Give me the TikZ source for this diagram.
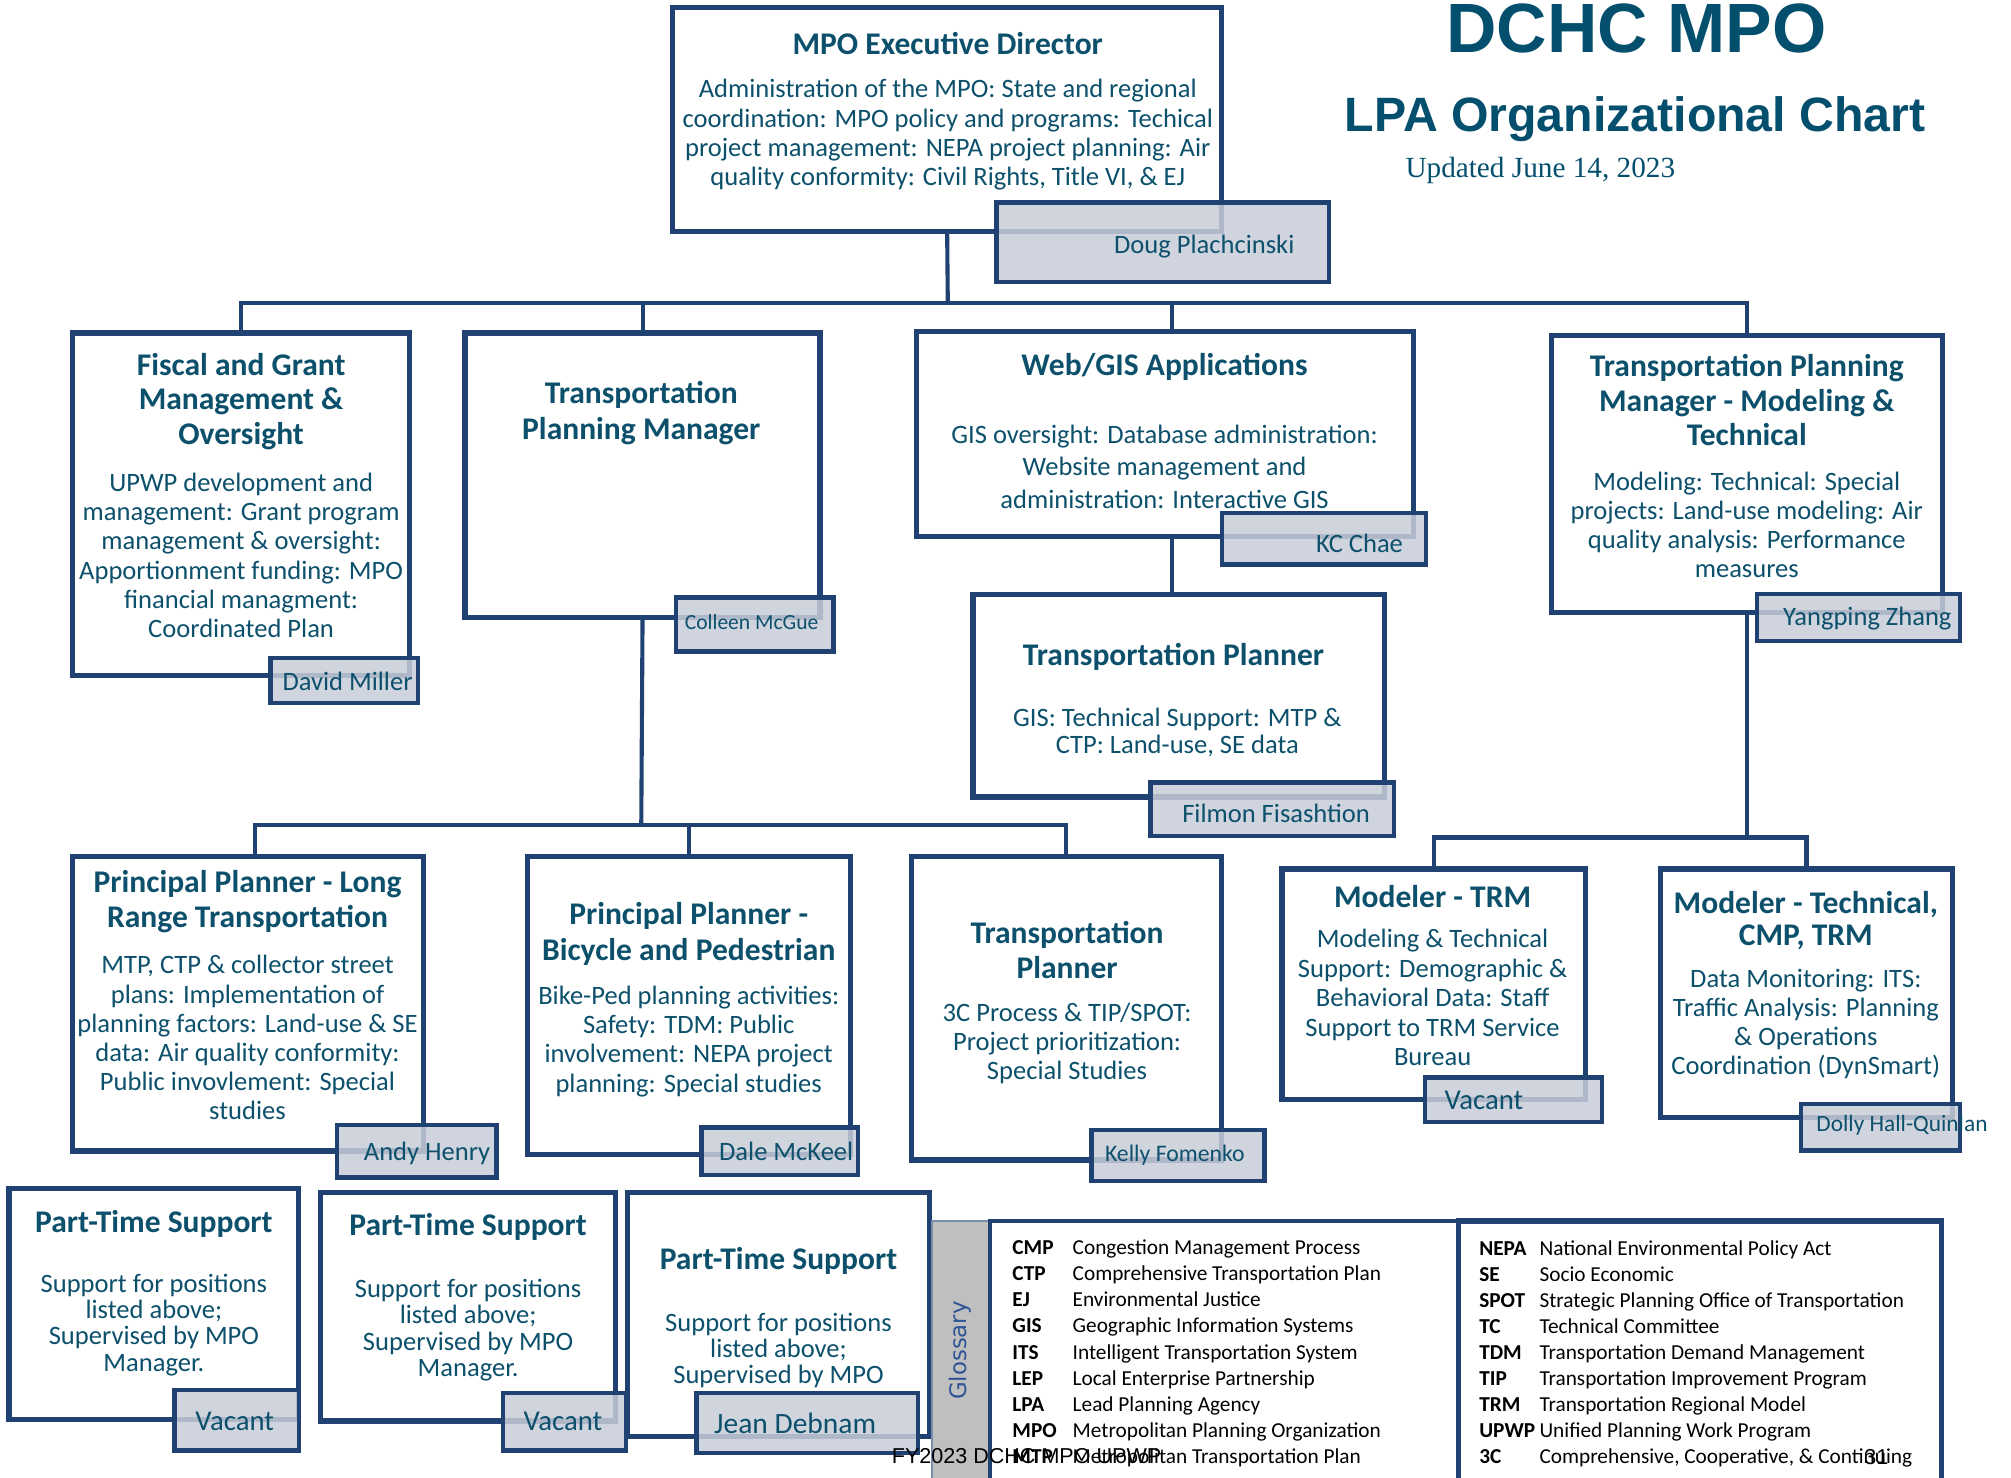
\documentclass[tikz,border=0pt]{standalone}
\usepackage{fontspec}
\setmainfont{Carlito}
\newfontfamily\arialf{Liberation Sans}
\newfontfamily\timesf{Liberation Serif}
\newfontfamily\dejaf{DejaVu Sans}
\usetikzlibrary{fit}
\definecolor{navy}{RGB}{31,66,114}
\definecolor{tealtx}{RGB}{12,80,108}
\definecolor{namefill}{RGB}{200,205,216}
\definecolor{glossgray}{RGB}{191,191,191}
\definecolor{glossblue}{RGB}{47,84,150}
\definecolor{titleblue}{RGB}{5,79,110}
\tikzset{
 box/.style={draw=navy, line width=2pt, fill=white, inner sep=0pt, outer sep=0pt},
 namebox/.style={draw=navy, line width=1.7pt, fill=namefill, fill opacity=0.85, inner sep=0pt, outer sep=0pt},
 conn/.style={draw=navy, line width=1.6pt},
 ttl/.style={text=tealtx, font=\bfseries\fontsize{12.3}{13.5}\selectfont, align=center, inner sep=0pt},
 bodyt/.style={text=tealtx, font=\fontsize{10.35}{11.35}\selectfont, align=center, inner sep=0pt},
 nm/.style={text=tealtx, font=\fontsize{10.35}{12}\selectfont, inner sep=0pt},
 gab/.style={text=black, font=\bfseries\fontsize{8.3}{10}\selectfont, anchor=mid west, inner sep=0pt},
 gde/.style={text=black, font=\fontsize{8.3}{10}\selectfont, anchor=mid west, inner sep=0pt},
}
\begin{document}
\begin{tikzpicture}[x=0.5pt,y=-0.5pt]
\useasboundingbox (0,0) rectangle (1568,1152);
\clip (0,0) rectangle (1568,1152);

% ---------- boxes (placed first so connectors can refer to them) ----------
\path
 node[fit={(525,6)(952,180)}, inner sep=0pt] (exec) {}
 node[fit={(57,260)(319,526)}, inner sep=0pt] (fiscal) {}
 node[fit={(363,260)(639,481)}, inner sep=0pt] (tpm) {}
 node[fit={(715,259)(1102,418)}, inner sep=0pt] (web) {}
 node[fit={(759,464)(1079,621)}, inner sep=0pt] (tpa) {}
 node[fit={(1210,262)(1514,477)}, inner sep=0pt] (tpmm) {}
 node[fit={(1000,678)(1236,857)}, inner sep=0pt] (mtrm) {}
 node[fit={(1295,678)(1522,871)}, inner sep=0pt] (mtech) {}
 node[fit={(57,668)(330,897)}, inner sep=0pt] (pplr) {}
 node[fit={(412,668)(663,900)}, inner sep=0pt] (ppbp) {}
 node[fit={(711,668)(952,904)}, inner sep=0pt] (tpb) {};

% ---------- connectors ----------
\coordinate (bus) at (739,236);
\coordinate (bus2) at (500,643);
\coordinate (bus3) at (1362,653);
\draw[conn] (exec.south) -- (bus);
\draw[conn] (fiscal.north) -- (fiscal.north |- bus) -- (tpmm.north |- bus) -- (tpmm.north);
\draw[conn] (tpm.north) -- (tpm.north |- bus);
\draw[conn] ([xshift=2.75pt]web.north) -- ([xshift=2.75pt]web.north |- bus);
\draw[conn] ([xshift=2.75pt]web.south) -- ([xshift=2.75pt]web.south |- tpa.north);
\draw[conn] (tpm.south) -- (bus2);
\draw[conn] ([xshift=2.5pt]pplr.north) -- ([xshift=2.5pt]pplr.north |- bus2) -- (tpb.north |- bus2) -- (tpb.north);
\draw[conn] (ppbp.north) -- (ppbp.north |- bus2);
\draw[conn] (tpmm.south) -- (bus3);
\draw[conn] (mtrm.north) -- (mtrm.north |- bus3) -- (mtech.north |- bus3) -- (mtech.north);

% ---------- draw boxes ----------
\foreach \b in {exec,fiscal,tpm,web,tpa,tpmm,mtrm,mtech,pplr,ppbp,tpb}
  \draw[navy, line width=2pt, fill=white] (\b.north west) rectangle (\b.south east);

\node[box, fit={(7,927)(233,1107)}] (pt1) {};
\node[box, fit={(250,930)(480,1108)}] (pt2) {};
\node[box, fit={(489,930)(725,1120)}] (pt3) {};

% ---------- texts ----------
\node[ttl] (execT) at (739,34) {MPO Executive Director};
\node[bodyt] (execB) at (739,105) {Administration of the MPO: State and regional\\coordination: MPO policy and programs: Techical\\project management: NEPA project planning: Air\\quality conformity: Civil Rights, Title VI, \& EJ};

\node[ttl] (fiscalT) at (188,313) {Fiscal and Grant\\Management \&\\Oversight};
\node[bodyt] (fiscalB) at (188,433) {UPWP development and\\management: Grant program\\management \& oversight:\\Apportionment funding: MPO\\financial managment:\\Coordinated Plan};

\node[ttl, font=\bfseries\fontsize{12.3}{14}\selectfont] (tpmT) at (500,322) {Transportation\\Planning Manager};

\node[ttl] (webT) at (908,286) {Web/GIS Applications};
\node[bodyt, font=\fontsize{10.35}{12.5}\selectfont] (webB) at (908,364) {GIS oversight: Database administration:\\Website management and\\administration: Interactive GIS};

\node[ttl] (tpaT) at (915,512) {Transportation Planner};
\node[bodyt, font=\fontsize{10.35}{10.6}\selectfont] (tpaB) at (918,571) {GIS: Technical Support: MTP \&\\CTP: Land-use, SE data};

\node[ttl] (tpmmT) at (1362,312) {Transportation Planning\\Manager - Modeling \&\\Technical};
\node[bodyt] (tpmmB) at (1362,409.5) {Modeling: Technical: Special\\projects: Land-use modeling: Air\\quality analysis: Performance\\measures};

\node[ttl] (mtrmT) at (1117,699) {Modeler - TRM};
\node[bodyt, font=\fontsize{10.35}{11.5}\selectfont] (mtrmB) at (1117,778) {Modeling \& Technical\\Support: Demographic \&\\Behavioral Data: Staff\\Support to TRM Service\\Bureau};

\node[ttl, font=\bfseries\fontsize{12.3}{12.6}\selectfont] (mtechT) at (1408,717.5) {Modeler - Technical,\\CMP, TRM};
\node[bodyt] (mtechB) at (1408,798.5) {Data Monitoring: ITS:\\Traffic Analysis: Planning\\\& Operations\\Coordination (DynSmart)};

\node[ttl, font=\bfseries\fontsize{12.3}{14}\selectfont] (pplrT) at (193,703) {Principal Planner - Long\\Range Transportation};
\node[bodyt] (pplrB) at (193,809) {MTP, CTP \& collector street\\plans: Implementation of\\planning factors: Land-use \& SE\\data: Air quality conformity:\\Public invovlement: Special\\studies};

\node[ttl, font=\bfseries\fontsize{12.3}{14}\selectfont] (ppbpT) at (537,728) {Principal Planner -\\Bicycle and Pedestrian};
\node[bodyt] (ppbpB) at (537,812) {Bike-Ped planning activities:\\Safety: TDM: Public\\involvement: NEPA project\\planning: Special studies};

\node[ttl] (tpbT) at (832,740.5) {Transportation\\Planner};
\node[bodyt] (tpbB) at (832,813.5) {3C Process \& TIP/SPOT:\\Project prioritization:\\Special Studies};

\node[ttl] (pt1T) at (120,954) {Part-Time Support};
\node[bodyt, font=\fontsize{10.35}{10.25}\selectfont] (pt1B) at (120,1033) {Support for positions\\listed above;\\Supervised by MPO\\Manager.};
\node[ttl] (pt2T) at (365,957) {Part-Time Support};
\node[bodyt, font=\fontsize{10.35}{10.25}\selectfont] (pt2B) at (365,1037) {Support for positions\\listed above;\\Supervised by MPO\\Manager.};
\node[ttl] (pt3T) at (607,983) {Part-Time Support};
\node[bodyt, font=\fontsize{10.35}{10.25}\selectfont] (pt3B) at (607,1053) {Support for positions\\listed above;\\Supervised by MPO};

% ---------- name boxes ----------
\node[namebox, fit={(777,158)(1036,220)}] (execN) {};
\node[nm] (execNt) at (939,192) {Doug Plachcinski};
\node[namebox, fit={(211,513)(326,548)}] (fiscalN) {};
\node[nm] (fiscalNt) at (271,531) {David Miller};
\node[namebox, fit={(527,466)(650,508)}] (tpmN) {};
\node[nm, font=\fontsize{8.4}{10}\selectfont] (tpmNt) at (586,485) {Colleen McGue};
\node[namebox, fit={(953,400)(1112,440)}] (webN) {};
\node[nm] (webNt) at (1060,424) {KC Chae};
\node[namebox, fit={(897,610)(1087,652)}] (tpaN) {};
\node[nm] (tpaNt) at (995,634) {Filmon Fisashtion};
\node[namebox, fit={(1370,463)(1528,500)}] (tpmmN) {};
\node[nm] (tpmmNt) at (1456,482) {Yangping Zhang};
\node[namebox, fit={(1111,840)(1249,875)}] (mtrmN) {};
\node[nm, font=\fontsize{11.2}{13}\selectfont] (mtrmNt) at (1157,858) {Vacant};
\node[namebox, fit={(1404,861)(1528,897)}] (mtechN) {};
\node[nm, font=\fontsize{9.1}{11}\selectfont] (mtechNt) at (1483,877) {Dolly Hall-Quinlan};
\node[namebox, fit={(263,877)(387,918)}] (pplrN) {};
\node[nm] (pplrNt) at (333,899) {Andy Henry};
\node[namebox, fit={(547,879)(669,916)}] (ppbpN) {};
\node[nm] (ppbpNt) at (613,898) {Dale McKeel};
\node[namebox, fit={(851,881)(986,921)}] (tpbN) {};
\node[nm, font=\fontsize{9.25}{11}\selectfont] (tpbNt) at (916,901) {Kelly Fomenko};
\node[namebox, fit={(136,1084)(233,1131)}] (pt1N) {};
\node[nm, font=\fontsize{11.2}{13}\selectfont] (pt1Nt) at (183,1108) {Vacant};
\node[namebox, fit={(392,1086)(488,1131)}] (pt2N) {};
\node[nm, font=\fontsize{11.2}{13}\selectfont] (pt2Nt) at (439,1108) {Vacant};
\node[namebox, fit={(543,1086)(716,1133)}] (pt3N) {};
\node[nm, font=\fontsize{11.5}{13}\selectfont] (pt3Nt) at (620,1110) {Jean Debnam};

% ---------- title ----------
\node[text=titleblue, font=\arialf\bfseries\fontsize{27.2}{30}\selectfont, inner sep=0pt] (t1) at (1276,22) {DCHC MPO};
\node[text=titleblue, font=\arialf\bfseries\fontsize{18.8}{22}\selectfont, inner sep=0pt] (t2) at (1275,92.5) {LPA Organizational Chart};
\node[text=titleblue, font=\timesf\fontsize{11.4}{13}\selectfont, inner sep=0pt] (t3) at (1201,133) {Updated June 14, 2023};

% ---------- glossary ----------
\node[fill=glossgray, draw=navy!60, line width=0.8pt, inner sep=0pt, fit={(727,952)(772,1170)}] (gbar) {};
\node[text=glossblue, rotate=90, font=\dejaf\fontsize{8.9}{10}\selectfont, inner sep=0pt] (glab) at (749,1053) {Glossary};
\node[draw=navy, line width=1.5pt, inner sep=0pt, fit={(772,952)(1137,1170)}] (gleft) {};
\node[draw=navy, line width=2pt, inner sep=0pt, fit={(1137,952)(1514,1170)}] (gright) {};
\foreach \a/\d [count=\i from 0] in {CMP/Congestion Management Process, CTP/Comprehensive Transportation Plan, EJ/Environmental Justice, GIS/Geographic Information Systems, ITS/Intelligent Transportation System, LEP/Local Enterprise Partnership, LPA/Lead Planning Agency, MPO/Metropolitan Planning Organization, MTP/Metropolitan Transportation Plan}{
  \node[gab] (ga\i) at (789,973.5+20.35*\i) {\a};
  \node[gde] (gd\i) at (836,973.5+20.35*\i) {\d};
}
\foreach \a/\d [count=\i from 0] in {NEPA/National Environmental Policy Act, SE/Socio Economic, SPOT/Strategic Planning Office of Transportation, TC/Technical Committee, TDM/Transportation Demand Management, TIP/Transportation Improvement Program, TRM/Transportation Regional Model, UPWP/Unified Planning Work Program, 3C/{Comprehensive, Cooperative, \& Continuing}}{
  \node[gab] (gb\i) at (1153,974+20.3*\i) {\a};
  \node[gde] (ge\i) at (1200,974+20.3*\i) {\d};
}

% ---------- footer ----------
\node[anchor=mid west, inner sep=0pt, font=\arialf\fontsize{8.4}{10}\selectfont] (foot) at (695,1136) {FY2023 DCHC MPO UPWP};
\node[inner sep=0pt, font=\arialf\fontsize{8.4}{10}\selectfont] (page) at (1463,1136) {31};
\end{tikzpicture}
\end{document}
